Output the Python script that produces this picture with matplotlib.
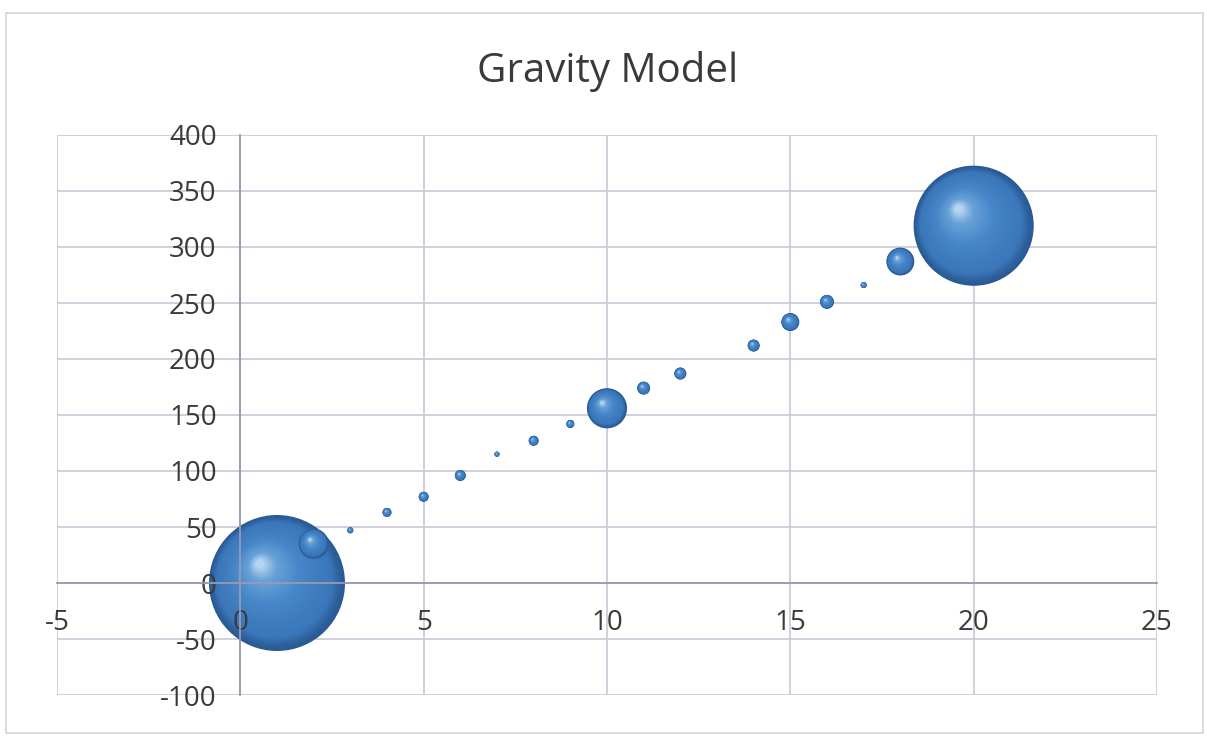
import matplotlib
matplotlib.use("Agg")
import matplotlib.pyplot as plt
import numpy as np
from matplotlib.colors import LinearSegmentedColormap
from matplotlib.patches import Rectangle

# distance / flow data
x_vals = [1, 2, 3, 4, 5, 6, 7, 8, 9, 10, 11, 12, 14, 15, 16, 17, 18, 20]
y_vals = [0, 35, 47, 63, 77, 96, 115, 127, 142, 156, 174, 187, 212, 233, 251, 266, 287, 319]
bubble_size = [100, 4.9, 0.2, 0.44, 0.54, 0.65, 0.14, 0.54, 0.35, 8.7,
               0.91, 0.78, 0.78, 1.75, 1.06, 0.2, 4.2, 78]

x_ticks = [-5, 0, 5, 10, 15, 20, 25]
y_ticks = [-100, -50, 0, 50, 100, 150, 200, 250, 300, 350, 400]
title = "Gravity Model"

W, H, DPI = 1207, 741, 100
MAX_R_PX = 68  # radius of the largest bubble in pixels

text_col = "#3a3a3a"
grid_col = "#c8c8d8"
axis_col = "#9a9aae"
plt.rcParams["font.family"] = ["Open Sans", "DejaVu Sans"]
plt.rcParams["axes.unicode_minus"] = False

fig = plt.figure(figsize=(W / DPI, H / DPI), dpi=DPI)
rect = [57 / W, 1 - 695 / H, 1100 / W, 560 / H]

# bottom axes: gridlines + bubbles
ax = fig.add_axes(rect)
ax.set_xlim(-5, 25)
ax.set_ylim(-100, 400)
ax.set_xticks(x_ticks)
ax.set_yticks(y_ticks)
ax.grid(True, color=grid_col, lw=1.2)
ax.set_axisbelow(True)
ax.tick_params(length=0, labelbottom=False, labelleft=False)
for s in ax.spines.values():
    s.set_visible(False)

# sphere-like shading: stacked circles moving toward an upper-left highlight
shade = LinearSegmentedColormap.from_list(
    "sphere", [(0, "#2a5a94"), (0.08, "#3a76ba"), (0.45, "#4686c8"),
               (0.8, "#6aa2d8"), (1, "#b4d4f0")])
n_layers = 30
fig.canvas.draw()
to_disp = ax.transData
to_data = ax.transData.inverted()
for i, (x, y, v) in enumerate(zip(x_vals, y_vals, bubble_size)):
    r = MAX_R_PX * np.sqrt(v / max(bubble_size))
    cx, cy = to_disp.transform((x, y))
    t = np.linspace(0, 1, n_layers)
    frac = 1 - 0.93 * t
    hx = cx - 0.25 * r * t
    hy = cy + 0.28 * r * t
    pts = to_data.transform(np.column_stack([hx, hy]))
    sizes = (2 * r * frac * 72 / DPI) ** 2
    ax.scatter(pts[:, 0], pts[:, 1], s=sizes, c=shade(t ** 1.3),
               linewidths=0, zorder=2 + i * 0.01)

# top axes: axis lines through zero and the tick labels
ax2 = fig.add_axes(rect, sharex=ax, sharey=ax)
ax2.patch.set_visible(False)
ax2.spines["left"].set_position(("data", 0))
ax2.spines["bottom"].set_position(("data", 0))
ax2.spines["right"].set_visible(False)
ax2.spines["top"].set_visible(False)
for side in ["left", "bottom"]:
    ax2.spines[side].set_color(axis_col)
    ax2.spines[side].set_linewidth(1.3)
ax2.tick_params(axis="x", length=0, pad=19, labelsize=20, labelcolor=text_col)
ax2.tick_params(axis="y", length=0, pad=17, labelsize=20, labelcolor=text_col)

fig.text(608 / W, 1 - 72 / H, title, ha="center", va="center",
         fontsize=29, color=text_col)

# chart area border
fig.patches.append(Rectangle((6 / W, 8 / H), 1197 / W, 720 / H,
                             transform=fig.transFigure, fill=False,
                             edgecolor="#d4d4d4", lw=1.2))

fig.savefig("out.png", dpi=DPI)
